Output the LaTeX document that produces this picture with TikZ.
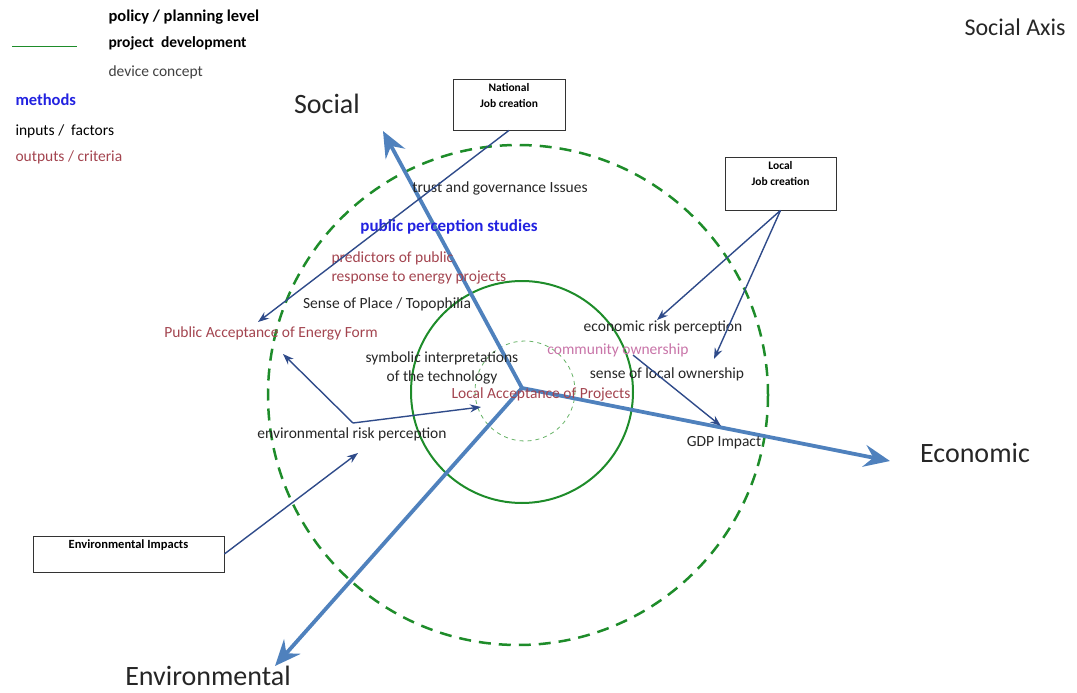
\documentclass[tikz,border=0pt]{standalone}
\usepackage{fontspec}
\setmainfont{Carlito}
\usepackage{tikz}
\usetikzlibrary{arrows,arrows.meta}

\definecolor{axisblue}{HTML}{4F81BD}
\definecolor{linkblue}{HTML}{2F4B8A}
\definecolor{ringgreen}{HTML}{1E8C2A}
\definecolor{critred}{HTML}{A3444F}
\definecolor{methblue}{HTML}{2222E0}
\definecolor{ownpink}{HTML}{C874A8}

\begin{document}
\begin{tikzpicture}[x=1pt,y=-1pt,>=stealth',
    axis/.style={-{Stealth[length=26pt,width=22pt,inset=9pt]},line width=3.8pt,draw=axisblue},
    link/.style={-{Stealth[length=11pt,width=8pt]},line width=1.4pt,draw=linkblue},
    factor/.style={font=\fontsize{15.5}{19}\selectfont,text=black!85},
    crit/.style={font=\fontsize{15.5}{19}\selectfont,text=critred},
    axlabel/.style={font=\fontsize{28}{32}\selectfont,text=black!85},
    legend/.style={anchor=west,font=\fontsize{15.5}{18}\selectfont},
    jobbox/.style={draw=black!80,thick,fill=white}]
  \useasboundingbox (0,0) rectangle (1077,693);
%  legend
  \node[legend,font=\fontsize{16.5}{18}\selectfont\bfseries] (lpol) at (105,17) {policy / planning level};
  \node[legend,font=\fontsize{15.5}{18}\selectfont\bfseries] (lproj) at (105,43) {project\ \ development};
  \node[legend,text=black!75] (ldev) at (105,72) {device concept};
  \node[legend,font=\fontsize{16.5}{18}\selectfont\bfseries,text=methblue] (lmeth) at (12,100) {methods};
  \node[legend] (linp) at (12,131) {inputs /\ \ factors};
  \node[legend,text=critred] (lout) at (12,157) {outputs / criteria};
  \draw[ringgreen,semithick] (12,46) -- (77,46);
  \node[font=\fontsize{24}{28}\selectfont,text=black!85] (title) at (1015,27) {Social Axis};

  % rings
  \draw[ringgreen,line width=2.5pt,dash pattern=on 12pt off 8pt] (518,395) circle [radius=250];
  \draw[ringgreen,line width=2pt] (522,392) circle [radius=111];
  \draw[black!50!green!60,line width=0.8pt,dash pattern=on 4pt off 4pt] (525,391) circle [radius=50];

  % axes
  \coordinate (c) at (522,388);
  \coordinate (socTip) at (383,131);
  \coordinate (ecoTip) at (890,461);
  \coordinate (envTip) at (275,666);
  \node[axlabel] (soc) at (327,104) {Social};
  \node[axlabel] (eco) at (975,453) {Economic};
  \node[axlabel] (env) at (208,676) {Environmental};
  \draw[axis] (c) -- (socTip);
  \draw[axis] (c) -- (ecoTip);
  \draw[axis] (c) -- (envTip);

  % boxes
  \node[jobbox,minimum width=112pt,minimum height=51pt,
        label={[anchor=north,yshift=-1pt,align=center,font=\fontsize{11.5}{16}\selectfont\bfseries]north:National\\Job creation}] (nat) at (509,104.5) {};
  \node[jobbox,minimum width=111pt,minimum height=53pt,
        label={[anchor=north,yshift=-1pt,align=center,font=\fontsize{11.5}{16}\selectfont\bfseries]north:Local\\Job creation}] (loc) at (780.5,183.5) {};
  \node[jobbox,minimum width=191pt,minimum height=36pt,
        label={[anchor=north,yshift=-1pt,font=\fontsize{12.5}{14}\selectfont\bfseries]north:Environmental Impacts}] (envimp) at (128.5,554) {};

  % texts
  \node[factor] (trust) at (500,188) {trust and governance Issues};
  \node[font=\fontsize{17}{20}\selectfont\bfseries,text=methblue] (pps) at (449,227) {public perception studies};
  \node[crit,anchor=west,align=left] (pred) at (328,268) {predictors of public\\response to energy projects};
  \node[factor] (sop) at (387,304) {Sense of Place / Topophilia};
  \node[crit] (pubacc) at (271,333) {Public Acceptance of Energy Form};
  \node[factor,align=center] (symb) at (442,368) {symbolic interpretations\\of the technology};
  \node[crit] (locacc) at (541,394) {Local Acceptance of Projects};
  \node[factor] (ecorisk) at (663,327) {economic risk perception};
  \node[font=\fontsize{15.5}{19}\selectfont,text=ownpink] (comm) at (618,350) {community ownership};
  \node[factor] (slo) at (667,374) {sense of local ownership};
  \node[factor] (envrisk) at (352,434) {environmental risk perception};
  \node[factor] (gdp) at (724,443) {GDP Impact};

  % links
  \coordinate (paTip) at (258,322);
  \coordinate (paTip2) at (283,354);
  \coordinate (laTip) at (481,407);
  \coordinate (erTip) at (358,453);
  \coordinate (ecTip) at (657,320);
  \coordinate (slTip) at (714,359);
  \coordinate (gdpTip) at (721,426);
  \coordinate (commEnd) at (633,355);
  \coordinate (erStart) at (353,423);

  \path (nat.south) edge[link] (paTip)
        (loc.south) edge[link] (ecTip)
                    edge[link] (slTip)
        (erStart) edge[link] (paTip2)
                  edge[link] (laTip)
        (envimp.east) edge[link] (erTip)
        (commEnd) edge[link] (gdpTip);
\end{tikzpicture}
\end{document}
